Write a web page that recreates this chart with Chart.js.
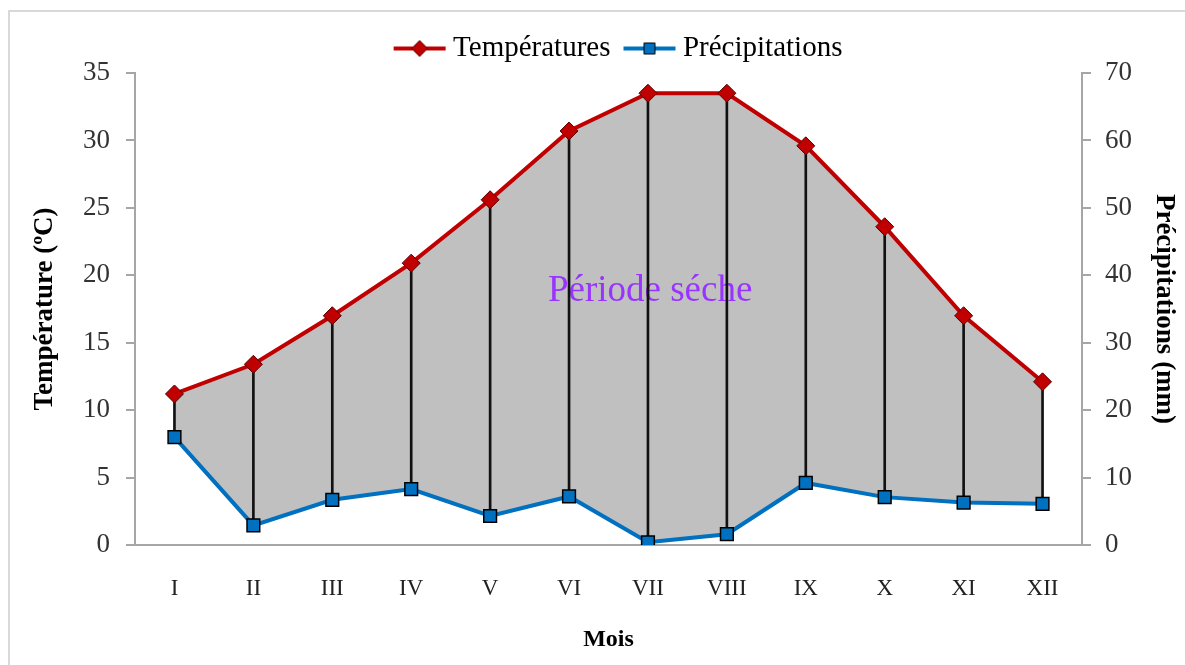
<!DOCTYPE html>
<html>
<head>
<meta charset="utf-8">
<script src="https://cdn.jsdelivr.net/npm/chart.js@4.4.0/dist/chart.umd.min.js"></script>
<style>
  html, body { margin: 0; padding: 0; background: #fff; }
  #wrap { position: relative; width: 1185px; height: 665px; }
  #frame { position: absolute; left: 8px; top: 10px; width: 1200px; height: 700px; border-left: 2px solid #d9d9d9; border-top: 2px solid #d9d9d9; }
  canvas { position: absolute; left: 0; top: 0; }
</style>
</head>
<body>
<div id="wrap">
  <div id="frame"></div>
  <canvas id="chart" width="1185" height="665"></canvas>
</div>
<script>
const months = ["I", "II", "III", "IV", "V", "VI", "VII", "VIII", "IX", "X", "XI", "XII"];
const temperatures = [11.2, 13.4, 17.0, 20.9, 25.6, 30.7, 33.5, 33.5, 29.6, 23.6, 17.0, 12.1];
const precipitations = [16.0, 2.9, 6.7, 8.3, 4.3, 7.2, 0.4, 1.6, 9.2, 7.1, 6.3, 6.1];
const tempTicks = [0, 35, 5];
const precipTicks = [0, 70, 10];

const serif = "'Liberation Serif', 'Times New Roman', serif";

// drop lines go from precipitation (converted on temp scale) up to temperature
const ratio = tempTicks[1] / precipTicks[1];
const dropLines = temperatures.map((t, i) => [precipitations[i] * ratio, t]);

function legendIcon(kind) {
  const c = document.createElement("canvas");
  c.width = 56; c.height = 22;
  const g = c.getContext("2d");
  g.lineWidth = 4;
  g.strokeStyle = kind == "temp" ? "#c00000" : "#0070c0";
  g.beginPath(); g.moveTo(2, 11); g.lineTo(54, 11); g.stroke();
  g.lineWidth = 1;
  g.strokeStyle = kind == "temp" ? "#5a0000" : "#000";
  g.fillStyle = kind == "temp" ? "#c00000" : "#0070c0";
  g.beginPath();
  if (kind == "temp") {
    g.moveTo(28, 3); g.lineTo(36, 11); g.lineTo(28, 19); g.lineTo(20, 11); g.closePath();
  } else {
    g.rect(22.5, 5.5, 11, 11);
  }
  g.fill(); g.stroke();
  return c;
}

const drySeason = {
  id: "drySeason",
  beforeDatasetsDraw(chart) {
    const a = chart.chartArea;
    const ctx = chart.ctx;
    ctx.save();
    ctx.font = "37px " + serif;
    ctx.fillStyle = "#9933ff";
    ctx.textAlign = "center";
    ctx.textBaseline = "middle";
    ctx.fillText("Période séche", a.left + (a.right - a.left) * 0.544, a.top + (a.bottom - a.top) * 0.462);
    ctx.restore();
  }
};

new Chart(document.getElementById("chart"), {
  data: {
    labels: months,
    datasets: [
      {
        type: "line",
        label: "Températures",
        data: temperatures,
        yAxisID: "y",
        borderColor: "#c00000",
        borderWidth: 4,
        backgroundColor: "#c0c0c0",
        fill: "+1",
        pointStyle: "rectRot",
        pointRadius: 9,
        pointBackgroundColor: "#c00000",
        pointBorderColor: "#5a0000",
        pointBorderWidth: 1,
        tension: 0,
        order: 1
      },
      {
        type: "line",
        label: "Précipitations",
        data: precipitations,
        yAxisID: "y2",
        borderColor: "#0070c0",
        borderWidth: 4,
        fill: false,
        pointStyle: "rect",
        pointRadius: 9,
        pointBackgroundColor: "#0070c0",
        pointBorderColor: "#000",
        pointBorderWidth: 1.5,
        tension: 0,
        order: 2
      },
      {
        type: "bar",
        label: "drop",
        data: dropLines,
        yAxisID: "y",
        backgroundColor: "#111",
        barThickness: 2,
        order: 3
      }
    ]
  },
  options: {
    responsive: false,
    animation: false,
    // left padding only moves the legend centre; the y axis box fills the rest up to x=135
    layout: { padding: { left: 58, right: 0, top: 14, bottom: 0 } },
    plugins: {
      filler: { drawTime: "beforeDatasetsDraw" },
      tooltip: { enabled: false },
      legend: {
        position: "top",
        labels: {
          font: { family: serif, size: 29 },
          color: "#000",
          usePointStyle: true,
          pointStyleWidth: 38,
          padding: 20,
          generateLabels(chart) {
            return [
              { text: "Températures", pointStyle: legendIcon("temp"), datasetIndex: 0, fontColor: "#000", lineWidth: 0 },
              { text: "Précipitations", pointStyle: legendIcon("prec"), datasetIndex: 1, fontColor: "#000", lineWidth: 0 }
            ];
          }
        }
      }
    },
    scales: {
      x: {
        offset: true,
        afterFit(s) { s.height = 120; },
        grid: { display: false, drawTicks: false },
        border: { color: "#a6a6a6", width: 2 },
        ticks: { font: { family: serif, size: 23 }, color: "#222", padding: 30 },
        title: { display: true, text: "Mois", font: { family: serif, size: 24, weight: "bold" }, color: "#000", padding: { bottom: 11 } }
      },
      y: {
        position: "left",
        min: tempTicks[0], max: tempTicks[1],
        afterFit(s) { s.width = 77; },
        ticks: { stepSize: tempTicks[2], font: { family: serif, size: 27 }, color: "#333", padding: 16 },
        grid: { drawOnChartArea: false, tickLength: 9, color: "#a6a6a6", lineWidth: 2 },
        border: { color: "#a6a6a6", width: 2 },
        title: { display: true, text: "Température (ºC)", font: { family: serif, size: 27, weight: "bold" }, color: "#000", padding: { top: -29 } }
      },
      y2: {
        position: "right",
        min: precipTicks[0], max: precipTicks[1],
        afterFit(s) { s.width = 103; },
        ticks: { stepSize: precipTicks[2], font: { family: serif, size: 27 }, color: "#333", padding: 14 },
        grid: { drawOnChartArea: false, tickLength: 9, color: "#a6a6a6", lineWidth: 2 },
        border: { color: "#a6a6a6", width: 2 },
        title: { display: true, text: "Précipitations (mm)", font: { family: serif, size: 27, weight: "bold" }, color: "#000", padding: { top: 5 } }
      }
    }
  },
  plugins: [drySeason]
});
</script>
</body>
</html>
